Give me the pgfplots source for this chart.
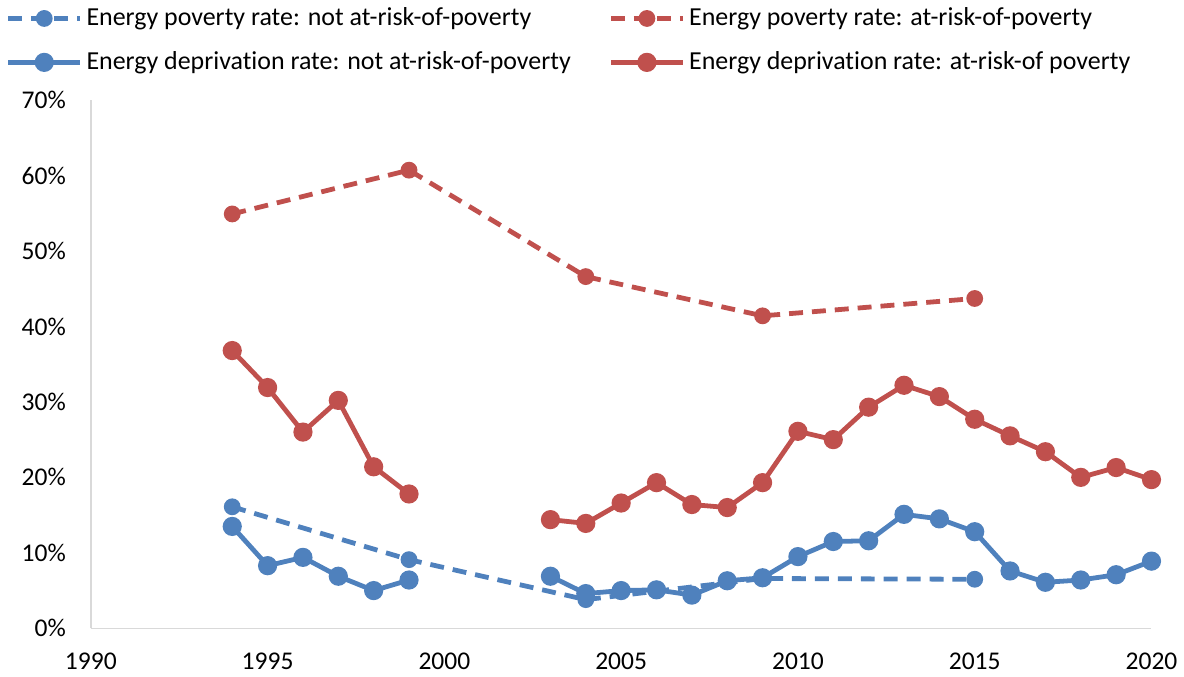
\documentclass[border=0pt]{standalone}
\usepackage{fontspec}
\setmainfont[RawFeature={-liga;-clig;-calt}]{Carlito}
\usepackage{pgfplots}
\pgfplotsset{compat=1.18}

\definecolor{exblue}{HTML}{4F81BD}
\definecolor{exred}{HTML}{C0504D}
\definecolor{axgray}{HTML}{D9D9D9}

% energy poverty rate (dashed)
\pgfplotstableread{
year notrisk risk
1994 16.1 54.9
1999 9.1 60.7
2004 3.8 46.6
2009 6.6 41.4
2015 6.5 43.7
}\poverty

% energy deprivation rate (solid), nan = gap
\pgfplotstableread{
year notrisk risk
1994 13.5 36.8
1995 8.3 31.9
1996 9.4 26.0
1997 6.9 30.2
1998 5.0 21.4
1999 6.4 17.8
2001 nan nan
2003 6.9 14.4
2004 4.6 13.9
2005 5.0 16.6
2006 5.1 19.3
2007 4.4 16.4
2008 6.3 16.0
2009 6.7 19.3
2010 9.5 26.1
2011 11.5 25.0
2012 11.6 29.3
2013 15.1 32.2
2014 14.5 30.7
2015 12.8 27.7
2016 7.6 25.5
2017 6.1 23.4
2018 6.4 20.0
2019 7.1 21.3
2020 8.9 19.7
}\deprivation

\begin{document}
\begin{tikzpicture}
\begin{axis}[
  scale only axis,
  width=532pt, height=265pt,
  xmin=1990, xmax=2020, ymin=0, ymax=70,
  xtick={1990,1995,...,2020},
  ytick={0,10,...,70},
  yticklabel={\pgfmathprintnumber{\tick}\%},
  xticklabel style={/pgf/number format/1000 sep={}},
  /pgf/number format/assume math mode=true,
  tick label style={font=\fontsize{12.8}{14}\selectfont, black},
  major tick length=0pt,
  xticklabel shift=9pt,
  yticklabel shift=9pt,
  axis x line*=bottom, axis y line*=left,
  axis line style={axgray, line width=0.8pt, -},
  unbounded coords=jump,
  legend columns=2,
  legend cell align=left,
  legend style={at={(-0.086,1.19)}, anchor=north west, draw=none, fill=none,
    font=\fontsize{13}{15}\selectfont, row sep=7.5pt,
    /tikz/every even column/.append style={column sep=17pt}},
  legend image code/.code={
    \draw[#1, mark=none] (0cm,0cm) -- (36pt,0cm);
    \draw[#1, solid] plot coordinates {(18pt,0cm)};
  },
]
\addplot[exblue, line width=2.4pt, dash pattern=on 7pt off 4.5pt, mark=*, mark size=3pt, mark options={solid}]
  table[x=year, y=notrisk] {\poverty};
\addlegendentry{Energy poverty rate: not at-risk-of-poverty}
\addplot[exred, line width=2.4pt, dash pattern=on 7pt off 4.5pt, mark=*, mark size=3pt, mark options={solid}]
  table[x=year, y=risk] {\poverty};
\addlegendentry{Energy poverty rate: at-risk-of-poverty}
\addplot[exblue, line width=2.4pt, mark=*, mark size=3.6pt]
  table[x=year, y=notrisk] {\deprivation};
\addlegendentry{Energy deprivation rate: not at-risk-of-poverty}
\addplot[exred, line width=2.4pt, mark=*, mark size=3.6pt]
  table[x=year, y=risk] {\deprivation};
\addlegendentry{Energy deprivation rate: at-risk-of poverty}
\end{axis}
\end{tikzpicture}
\end{document}
